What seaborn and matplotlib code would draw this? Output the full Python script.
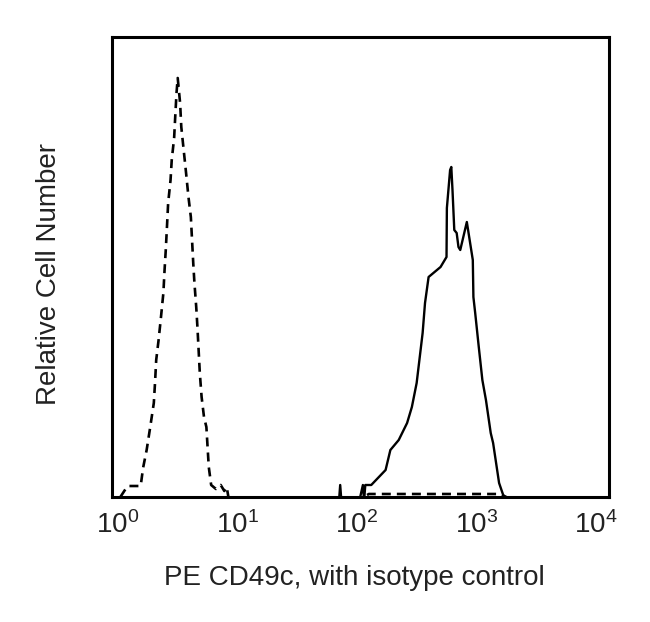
import numpy as np
import pandas as pd
import matplotlib
matplotlib.use("Agg")
import matplotlib.pyplot as plt
import seaborn as sns

# Isotype control histogram (dashed): log10 intensity, relative count
iso_log = [0.02, 0.08, 0.14, 0.19, 0.21, 0.24, 0.27, 0.30, 0.31, 0.32, 0.34, 0.36,
           0.38, 0.39, 0.40, 0.41, 0.42, 0.44, 0.45, 0.47, 0.48, 0.49, 0.50, 0.52,
           0.53, 0.55, 0.57, 0.59, 0.61, 0.62, 0.63, 0.64, 0.655, 0.665, 0.675,
           0.685, 0.70, 0.72, 0.74, 0.75, 0.76, 0.78, 0.82, 0.86, 0.89, 0.91, 0.93,
           2.0, 2.1, 3.2, 3.25]
iso_cnt = [0, 11, 11, 11, 29, 47, 70, 94, 114, 137, 157, 180,
           204, 227, 247, 270, 294, 317, 337, 359, 382, 404, 419, 394,
           370, 347, 324, 300, 280, 257, 234, 214, 190, 170, 147,
           124, 100, 80, 70, 50, 30, 12, 8, 12, 6, 10, -4,
           -4, 3, 3, 0]

# PE CD49c histogram (solid)
cd_log = [1.75, 1.85, 1.86, 1.87, 2.02, 2.05, 2.06, 2.07, 2.12, 2.24, 2.28,
          2.35, 2.42, 2.46, 2.50, 2.55, 2.57, 2.60, 2.70, 2.75, 2.753, 2.78,
          2.79, 2.80, 2.815, 2.835, 2.85, 2.865, 2.92, 2.97, 2.975, 2.99,
          3.02, 3.05, 3.08, 3.12, 3.14, 3.17, 3.19, 3.23, 3.25, 3.5]
cd_cnt = [-4, -4, 12, -4, -4, 12, -4, 12, 12, 27, 47,
          57, 74, 90, 114, 164, 194, 220, 230, 240, 289, 327,
          330, 307, 267, 264, 250, 247, 275, 237, 200, 184,
          150, 117, 97, 64, 54, 30, 14, 0, -4, -4]

x_ticks = [1, 10, 100, 1000, 10000]
x_tick_labels = [r"$10^{0}$", r"$10^{1}$", r"$10^{2}$", r"$10^{3}$", r"$10^{4}$"]

iso_df = pd.DataFrame({"intensity": np.power(10.0, iso_log), "count": iso_cnt})
cd_df = pd.DataFrame({"intensity": np.power(10.0, cd_log), "count": cd_cnt})

sns.set_style("white")
plt.rcParams["font.family"] = ["Liberation Sans", "DejaVu Sans"]
plt.rcParams["mathtext.default"] = "regular"

fig = plt.figure(figsize=(6.5, 6.22), dpi=100)
ax = fig.add_axes([112 / 650, 1 - 497 / 622, (609 - 112) / 650, (497 - 37) / 622])

sns.lineplot(data=iso_df, x="intensity", y="count", ax=ax, color="black",
             linewidth=1.9, linestyle=(0, (3.4, 2.3)), sort=False)
sns.lineplot(data=cd_df, x="intensity", y="count", ax=ax, color="black",
             linewidth=1.7, sort=False)

ax.set_xscale("log")
ax.set_xlim(10 ** -0.05, 10 ** 4.11)
ax.set_ylim(0, 460)
ax.set_xticks(x_ticks)
ax.set_xticklabels(x_tick_labels, fontsize=20)
ax.minorticks_off()
ax.set_yticks([])
ax.tick_params(axis="x", length=0, pad=10, colors="#222222")
for s in ax.spines.values():
    s.set_visible(True)
    s.set_color("black")
    s.set_linewidth(2.2)

ax.set_xlabel("PE CD49c, with isotype control", fontsize=20, color="#222222", labelpad=16)
ax.set_ylabel("Relative Cell Number", fontsize=20, color="#222222", labelpad=36)
ax.xaxis.set_label_coords(0.487, -0.147)
ax.yaxis.label.set_y(0.485)

fig.savefig("out.png", dpi=100)
